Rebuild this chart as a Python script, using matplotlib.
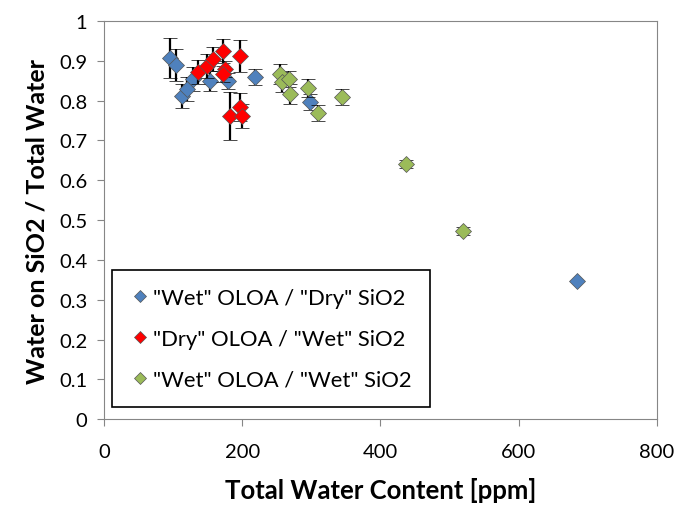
import matplotlib
matplotlib.use('Agg')
import matplotlib.pyplot as plt

plt.rcParams['font.family'] = ['Lato', 'DejaVu Sans']

# "Wet" OLOA / "Dry" SiO2
blue_x = [95, 104, 113, 120, 129, 153, 179, 218, 298, 685]
blue_y = [0.907, 0.889, 0.812, 0.829, 0.854, 0.849, 0.849, 0.859, 0.796, 0.347]
blue_err = [0.05, 0.04, 0.03, 0.03, 0.03, 0.025, 0.02, 0.021, 0.02, 0.0]

# "Dry" OLOA / "Wet" SiO2
red_x = [136, 149, 158, 172, 197, 175, 172, 182, 197, 200]
red_y = [0.872, 0.887, 0.904, 0.925, 0.912, 0.879, 0.867, 0.761, 0.784, 0.762]
red_err = [0.03, 0.03, 0.03, 0.03, 0.04, 0.02, 0.02, 0.06, 0.035, 0.03]

# "Wet" OLOA / "Wet" SiO2
green_x = [255, 258, 267, 269, 295, 310, 344, 437, 520]
green_y = [0.867, 0.847, 0.854, 0.817, 0.831, 0.769, 0.809, 0.641, 0.472]
green_err = [0.025, 0.025, 0.02, 0.025, 0.023, 0.02, 0.02, 0.01, 0.01]

labels = ['"Wet" OLOA / "Dry" SiO2', '"Dry" OLOA / "Wet" SiO2', '"Wet" OLOA / "Wet" SiO2']
colors = ['#4F81BD', '#FF0000', '#9BBB59']

fig = plt.figure(figsize=(6.8, 5.1), dpi=100)
ax = fig.add_axes([0.153, 0.176, 0.813, 0.781])

series = [(blue_x, blue_y, blue_err), (red_x, red_y, red_err), (green_x, green_y, green_err)]
for i, (x, y, e) in enumerate(series):
    ax.errorbar(x, y, yerr=e, fmt='D', color=colors[i], ms=8.5, mec='#555555', mew=0.5,
                ecolor='black', elinewidth=1.6, capsize=5, capthick=1.6, label=labels[i],
                zorder=3 + i)

ax.set_xlim(0, 800)
ax.set_ylim(0, 1)
ax.set_xticks([0, 200, 400, 600, 800])
ax.set_yticks([i / 10 for i in range(11)])
ax.set_yticklabels(['0', '0.1', '0.2', '0.3', '0.4', '0.5', '0.6', '0.7', '0.8', '0.9', '1'])

for s in ax.spines.values():
    s.set_color('#868686')
ax.tick_params(direction='out', length=5, color='#868686', labelsize=14.5)
ax.tick_params(axis='x', pad=12)
ax.tick_params(axis='y', pad=7)

ax.set_xlabel('Total Water Content [ppm]', fontsize=18.5, fontweight='bold', labelpad=12)
ax.set_ylabel('Water on SiO2 / Total Water', fontsize=18, fontweight='bold', labelpad=8)

# legend without error bars
handles, _ = ax.get_legend_handles_labels()
handles = [h[0] for h in handles]
leg = ax.legend(handles, labels, loc='lower left', bbox_to_anchor=(0.014, 0.03),
                borderaxespad=0, fontsize=15.8, frameon=True, fancybox=False,
                edgecolor='black', framealpha=1, handletextpad=0.1, labelspacing=0.95,
                borderpad=0.8, markerscale=0.75, handlelength=1.0)
leg.get_frame().set_linewidth(1.2)

fig.savefig('out.png', dpi=100)
